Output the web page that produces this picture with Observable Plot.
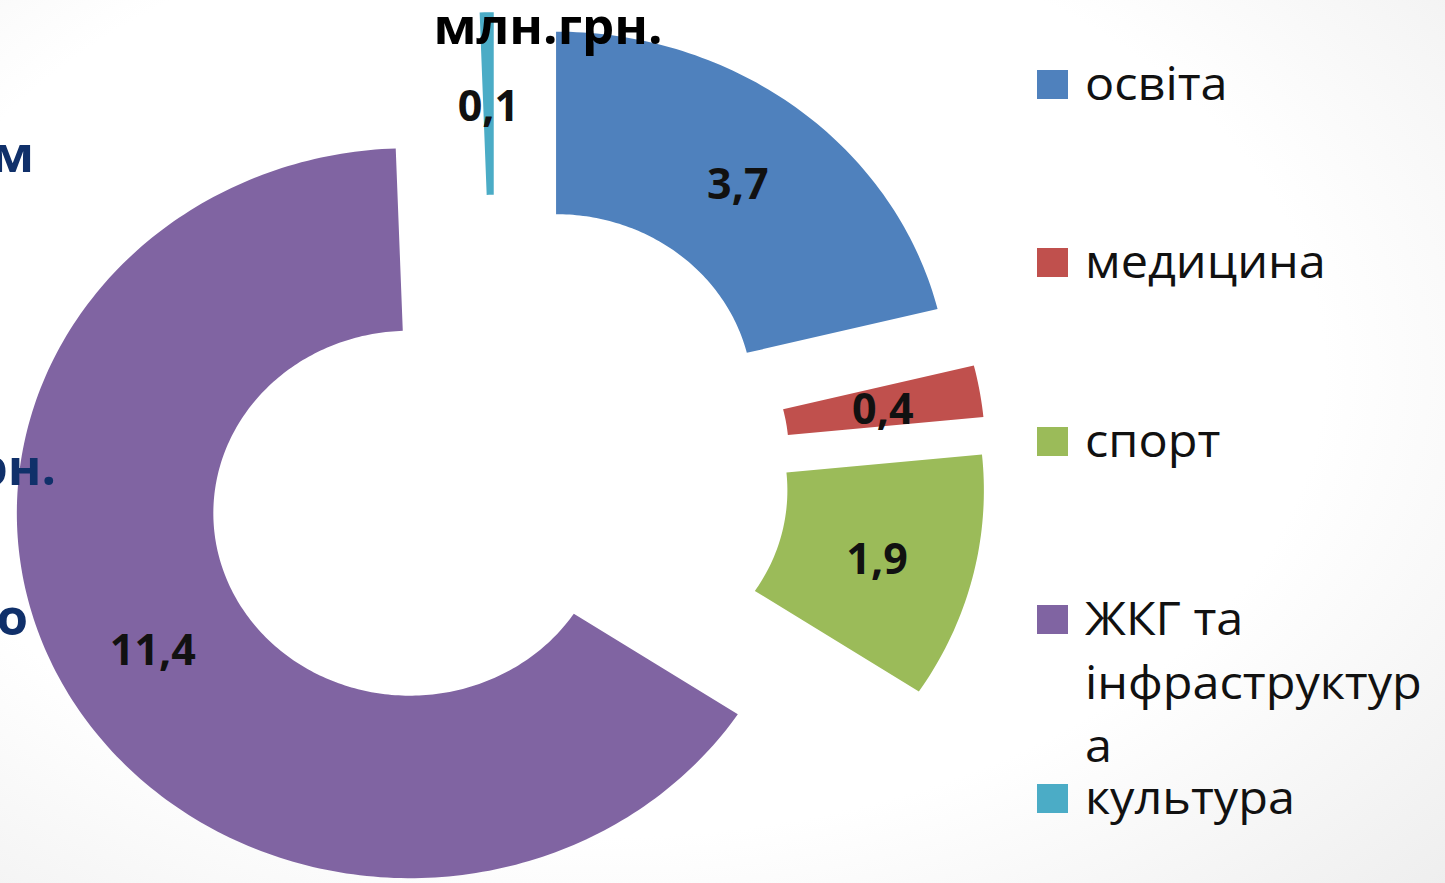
<!DOCTYPE html>
<html>
<head>
<meta charset="utf-8">
<script src="https://cdn.jsdelivr.net/npm/d3@7"></script>
<script src="https://cdn.jsdelivr.net/npm/@observablehq/plot@0.6"></script>
<style>
  html, body { margin: 0; padding: 0; overflow: hidden; }
  body { width: 1445px; height: 883px;
    background: radial-gradient(ellipse 80% 85% at 42% 42%, #ffffff 62%, #eeeeee 100%); }
  #wrap { position: relative; width: 1445px; height: 883px; overflow: hidden; }
  #chart { position: absolute; left: 0; top: 0; }
  .ov { position: absolute; white-space: nowrap; font-family: "Open Sans", sans-serif; }
  .title { font-size: 51px; font-weight: 700; line-height: 45px; color: #000; transform: translateX(-50%); }
  .frag { font-size: 51px; font-weight: 700; line-height: 51px; color: #10306a; transform: translateX(-100%); }
  .leg { font-size: 45px; line-height: 46px; color: #111; transform: scaleX(1.08); transform-origin: 0 50%; }
  .sw { position: absolute; width: 31px; height: 29px; }
</style>
</head>
<body>
<div id="wrap"><div id="chart"></div></div>
<script>
// ---- data ----
const categories = ["освіта", "медицина", "спорт", "ЖКГ та інфраструктура", "культура"];
const values = [3.7, 0.4, 1.9, 11.4, 0.1];
const colors = ["#4F81BD", "#C0504D", "#9BBB59", "#8064A2", "#4BACC6"];
const legendLines = [["освіта"], ["медицина"], ["спорт"], ["ЖКГ та", "інфраструктур", "а"], ["культура"]];
const unitTitle = "млн.грн.";
const sideFragments = ["м", "грн.", "о"];

// ---- layout ----
const W = 1445, H = 883;
const CX = 495, CY = 468, RX = 393, RY = 365;
const HOLE = 0.5, EXPLODE = 0.25;

const total = d3.sum(values);
let cum = 0;
const slices = values.map((v, i) => {
  const a0 = cum / total * 2 * Math.PI;
  cum += v;
  const a1 = cum / total * 2 * Math.PI;
  const mid = (a0 + a1) / 2;
  const ox = EXPLODE * Math.sin(mid), oy = EXPLODE * Math.cos(mid);
  const n = Math.max(2, Math.ceil((a1 - a0) / (Math.PI / 180)));
  const pts = [];
  for (let k = 0; k <= n; k++) {
    const a = a0 + (a1 - a0) * k / n;
    pts.push({x: ox + Math.sin(a), y: oy + Math.cos(a)});
  }
  for (let k = n; k >= 0; k--) {
    const a = a0 + (a1 - a0) * k / n;
    pts.push({x: ox + HOLE * Math.sin(a), y: oy + HOLE * Math.cos(a)});
  }
  const rl = (1 + HOLE) / 2;
  return {
    cat: categories[i], color: colors[i], pts,
    lx: ox + rl * Math.sin(mid), ly: oy + rl * Math.cos(mid),
    label: String(v).replace(".", ",")
  };
});

const plot = Plot.plot({
  width: W, height: H, margin: 0,
  style: {background: "transparent"},
  x: {domain: [-CX / RX, (W - CX) / RX], axis: null},
  y: {domain: [(CY - H) / RY, CY / RY], axis: null},
  marks: [
    ...slices.map(s => Plot.line(s.pts, {x: "x", y: "y", fill: s.color, stroke: "none", curve: "linear-closed"})),
    Plot.text(slices, {x: "lx", y: "ly", text: "label", fontSize: 43, fontWeight: "bold",
      fontFamily: "Open Sans", fill: "#111", dy: 4})
  ]
});
document.getElementById("chart").appendChild(plot);

// ---- overlays: unit title, cut-off side text, legend ----
const wrap = document.getElementById("wrap");
function addDiv(cls, html, left, top) {
  const d = document.createElement("div");
  d.className = "ov " + cls;
  d.innerHTML = html;
  d.style.left = left + "px";
  d.style.top = top + "px";
  wrap.appendChild(d);
  return d;
}
addDiv("title", unitTitle, 548, 2);
const fragPos = [[34, 127], [56, 440], [28, 590]];
sideFragments.forEach((t, i) => addDiv("frag", t, fragPos[i][0], fragPos[i][1]));

// legend: swatch + text lines (baseline about 16px below swatch centre, 63px between wrapped lines)
const legTop = 84, legStep = 178.5, lineStep = 63.5;
legendLines.forEach((lines, i) => {
  const c = legTop + i * legStep;
  const sw = document.createElement("div");
  sw.className = "sw";
  sw.style.left = "1037px";
  sw.style.top = (c - 14.5) + "px";
  sw.style.background = colors[i];
  wrap.appendChild(sw);
  lines.forEach((t, j) => addDiv("leg", t, 1085, c + 16 - 40.5 + j * lineStep));
});
</script>
</body>
</html>
